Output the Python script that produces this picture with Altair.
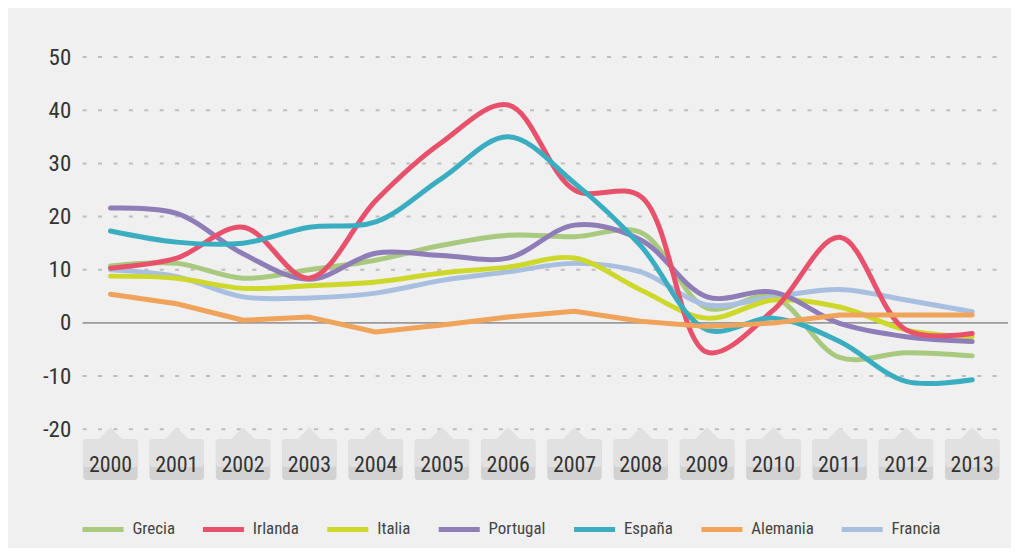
import altair as alt
import pandas as pd

years = list(range(2000, 2014))
grecia = [10.7, 11.2, 8.4, 10.0, 11.8, 14.6, 16.5, 16.2, 17.0, 2.8, 4.9, -6.5, -5.6, -6.2]
irlanda = [10.3, 12.2, 18.0, 8.4, 23.0, 34.0, 41.0, 25.0, 23.8, -5.5, 2.4, 16.1, -1.3, -2.0]
italia = [8.8, 8.4, 6.5, 7.0, 7.7, 9.4, 10.5, 12.2, 6.2, 0.9, 4.3, 3.0, -1.3, -2.6]
portugal = [21.6, 20.6, 13.0, 8.2, 13.1, 12.7, 12.2, 18.4, 15.6, 4.9, 5.8, -0.1, -2.6, -3.5]
espana = [17.3, 15.2, 15.0, 18.0, 19.0, 27.2, 35.0, 26.3, 14.5, -1.3, 0.9, -3.5, -11.0, -10.7]
alemania = [5.4, 3.6, 0.5, 1.1, -1.7, -0.4, 1.1, 2.2, 0.3, -0.7, 0.0, 1.5, 1.5, 1.5]
francia = [10.0, 8.7, 4.9, 4.7, 5.6, 8.0, 9.6, 11.2, 9.6, 3.4, 4.9, 6.3, 4.3, 2.1]

countries = ["Grecia", "Irlanda", "Italia", "Portugal", "España", "Alemania", "Francia"]
colors = ["#a9c97f", "#e8516b", "#cdd82a", "#8f7db7", "#3aaec0", "#f0a35a", "#a9bfe0"]
draw_order = ["Grecia", "Francia", "Italia", "Portugal", "Irlanda", "España", "Alemania"]
series = {"Grecia": grecia, "Irlanda": irlanda, "Italia": italia, "Portugal": portugal,
          "España": espana, "Alemania": alemania, "Francia": francia}

grid_values = [-20, -10, 10, 20, 30, 40, 50]
y_ticks = [-20, -10, 0, 10, 20, 30, 40, 50]

rows = []
for c in draw_order:
    for yr, v in zip(years, series[c]):
        rows.append({"year": yr, "value": v, "pais": c})
df = pd.DataFrame(rows)
df_tabs = pd.DataFrame({"year": years})
df_grid = pd.DataFrame({"v": grid_values})
df_zero = pd.DataFrame({"v": [0]})

FONT = "Roboto Condensed"
W, H = 926, 374

xs = alt.Scale(domain=[1999.58, 2013.48], nice=False, zero=False)
ys = alt.Scale(domain=[-20, 50], nice=False, zero=False)
color_scale = alt.Scale(domain=countries, range=colors)

grid = alt.Chart(df_grid).mark_rule(color="#bdbdbd", strokeWidth=2, strokeDash=[4, 11.5]).encode(
    y=alt.Y("v:Q", scale=ys, axis=alt.Axis(values=y_ticks, grid=False, domain=False, ticks=False,
                                           labelFontSize=23, labelFont=FONT, labelColor="#333333",
                                           labelPadding=12, title=None,
                                           labelExpr="'' + datum.value")),
    x=alt.value(0), x2=alt.value(W + 4),
)
zero = alt.Chart(df_zero).mark_rule(color="#9a9a9a", strokeWidth=1.6).encode(
    y=alt.Y("v:Q", scale=ys), x=alt.value(0), x2=alt.value(W + 4)
)

tabs_base = alt.Chart(df_tabs).transform_calculate(
    x0="datum.year - 0.41", x1="datum.year + 0.41"
)
tabs_bottom = tabs_base.mark_rect(color="#d2d2d2", cornerRadius=3).encode(
    x=alt.X("x0:Q", scale=xs, axis=None), x2="x1:Q",
    y=alt.value(384), y2=alt.value(425),
)
tabs_top = tabs_base.mark_rect(color="#e1e1e1", cornerRadius=3).encode(
    x=alt.X("x0:Q", scale=xs, axis=None), x2="x1:Q",
    y=alt.value(384), y2=alt.value(412),
)
notch = alt.Chart(df_tabs).mark_point(
    shape="M -1 0 L 0 -1 L 1 0 Z", filled=True, size=676,
    color="#e1e1e1", opacity=1
).encode(x=alt.X("year:Q", scale=xs, axis=None), y=alt.value(385))
year_text = alt.Chart(df_tabs).mark_text(
    font=FONT, fontSize=22, color="#333333", baseline="middle", dy=1
).encode(x=alt.X("year:Q", scale=xs, axis=None), y=alt.value(409), text="year:N")

legend = alt.Legend(
    orient="none", legendX=-3, legendY=451, direction="horizontal", title=None,
    symbolType="stroke", symbolSize=1700, symbolStrokeWidth=5, symbolDash=[50, 0],
    labelFont=FONT, labelFontSize=17, labelColor="#444444", columnPadding=17, labelOffset=6,
)

curvy = alt.Chart(df).transform_filter(alt.datum.pais != "Alemania").mark_line(
    interpolate="catmull-rom", strokeWidth=5, strokeCap="round", strokeJoin="round"
).encode(
    x=alt.X("year:Q", scale=xs, axis=None),
    y=alt.Y("value:Q", scale=ys),
    color=alt.Color("pais:N", scale=color_scale, legend=legend),
)
straight = alt.Chart(df).transform_filter(alt.datum.pais == "Alemania").mark_line(
    interpolate="linear", strokeWidth=5, strokeCap="round", strokeJoin="round"
).encode(
    x=alt.X("year:Q", scale=xs, axis=None),
    y=alt.Y("value:Q", scale=ys),
    color=alt.Color("pais:N", scale=color_scale, legend=legend),
)

chart = alt.layer(grid, zero, tabs_bottom, tabs_top, notch, year_text, curvy, straight).properties(
    width=W, height=H,
    padding={"left": 75, "top": 48, "right": 7, "bottom": 118},
    autosize=alt.AutoSizeParams(type="none"),
    background="#f0f0f0",
).configure_view(strokeWidth=0)

chart.save("out.html", embed_options={"renderer": "svg", "actions": False})
